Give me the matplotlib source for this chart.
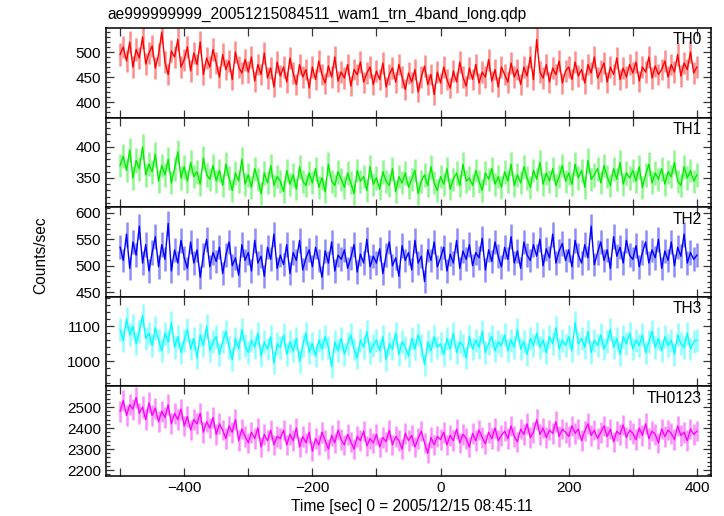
import numpy as np
import matplotlib
matplotlib.use("Agg")
import matplotlib.pyplot as plt
from matplotlib.ticker import MultipleLocator

plt.rcParams["font.family"] = ["Liberation Sans", "DejaVu Sans"]
plt.rcParams["font.size"] = 11

# time grid (sec), 5 s steps from -500 to 400
timeSec = np.arange(-500, 401, 5)

th0 = [495, 510, 482, 520, 470, 505, 488, 530, 476, 498,
       512, 468, 495, 540, 480, 455, 502, 490, 525, 470,
       485, 510, 462, 498, 475, 520, 455, 488, 470, 505,
       478, 450, 495, 465, 482, 445, 500, 470, 458, 485,
       460, 490, 442, 475, 455, 498, 448, 468, 430, 480,
       452, 470, 440, 488, 458, 435, 475, 450, 465, 428,
       470, 445, 482, 455, 438, 472, 450, 490, 442, 460,
       448, 475, 432, 465, 455, 480, 440, 458, 470, 435,
       462, 445, 478, 430, 455, 468, 440, 475, 450, 425,
       458, 440, 465, 420, 450, 472, 435, 455, 415, 460,
       438, 470, 445, 428, 462, 440, 480, 450, 432, 468,
       445, 475, 438, 460, 450, 485, 442, 465, 430, 470,
       455, 440, 478, 450, 465, 435, 470, 452, 490, 445,
       525, 460, 448, 475, 440, 468, 455, 482, 438, 462,
       470, 445, 480, 452, 465, 438, 475, 458, 490, 448,
       462, 478, 440, 470, 455, 488, 445, 468, 450, 475,
       458, 480, 442, 470, 460, 490, 448, 472, 455, 465,
       482, 450, 475, 460, 495, 452, 478, 465, 500, 458,
       470]

th1 = [370, 385, 362, 395, 350, 378, 365, 400, 355, 372,
       360, 388, 345, 370, 355, 380, 342, 365, 392, 350,
       368, 345, 375, 352, 360, 340, 382, 355, 348, 370,
       345, 362, 338, 372, 350, 330, 358, 345, 380, 340,
       355, 335, 365, 348, 325, 358, 342, 370, 338, 352,
       345, 328, 362, 340, 355, 332, 368, 345, 338, 358,
       342, 365, 335, 350, 328, 372, 345, 338, 360, 348,
       335, 358, 342, 325, 362, 345, 352, 330, 368, 340,
       350, 332, 360, 345, 338, 365, 328, 352, 342, 358,
       335, 348, 362, 325, 345, 355, 338, 368, 342, 330,
       352, 340, 365, 332, 348, 358, 338, 372, 345, 350,
       338, 362, 345, 330, 358, 348, 365, 340, 352, 335,
       360, 345, 372, 338, 355, 342, 368, 350, 335, 362,
       348, 375, 340, 358, 345, 365, 338, 352, 370, 345,
       358, 340, 372, 350, 362, 335, 378, 348, 355, 365,
       342, 370, 352, 338, 365, 348, 375, 340, 358, 350,
       362, 345, 368, 335, 355, 372, 342, 358, 348, 365,
       340, 360, 352, 375, 345, 338, 368, 350, 362, 345,
       355]

th2 = [535, 510, 560, 495, 545, 520, 575, 505, 540, 490,
       525, 555, 498, 540, 512, 580, 490, 530, 505, 548,
       515, 495, 545, 505, 530, 478, 520, 550, 498, 525,
       508, 535, 485, 520, 545, 500, 515, 482, 540, 510,
       525, 490, 548, 505, 518, 480, 535, 512, 560, 495,
       520, 502, 540, 485, 525, 510, 548, 492, 515, 530,
       498, 535, 510, 478, 528, 505, 545, 490, 520, 512,
       530, 495, 515, 540, 488, 522, 505, 550, 498, 518,
       505, 532, 485, 520, 545, 500, 515, 480, 538, 510,
       525, 492, 548, 505, 518, 470, 530, 510, 545, 498,
       515, 535, 490, 522, 505, 548, 495, 528, 512, 540,
       500, 525, 515, 552, 492, 530, 508, 545, 518, 498,
       535, 512, 555, 505, 528, 495, 545, 520, 510, 540,
       518, 550, 500, 532, 515, 560, 505, 528, 542, 510,
       530, 498, 548, 520, 505, 540, 515, 575, 502, 525,
       545, 510, 530, 495, 555, 518, 535, 505, 548, 520,
       512, 538, 498, 525, 545, 505, 530, 515, 550, 495,
       528, 510, 545, 500, 535, 518, 560, 505, 525, 512,
       520]

th3 = [1090, 1060, 1120, 1075, 1100, 1050, 1085, 1130, 1065, 1080,
       1045, 1095, 1060, 1030, 1080, 1055, 1110, 1040, 1070, 1025,
       1060, 1090, 1035, 1065, 1010, 1075, 1045, 1100, 1030, 1055,
       1070, 1020, 1055, 1085, 1040, 1005, 1065, 1035, 1090, 1045,
       1025, 1060, 1040, 1080, 1015, 1055, 1035, 1070, 995, 1050,
       1040, 1075, 1020, 1055, 1030, 1065, 1000, 1045, 1080, 1025,
       1050, 1015, 1060, 1035, 1070, 1040, 985, 1055, 1030, 1065,
       1020, 1050, 1075, 1035, 1010, 1060, 1040, 1085, 1025, 1045,
       1060, 1030, 1070, 1005, 1050, 1035, 1080, 1020, 1055, 1040,
       1015, 1065, 1035, 1075, 1045, 990, 1055, 1030, 1070, 1040,
       1050, 1020, 1065, 1035, 1080, 1025, 1055, 1045, 1010, 1070,
       1035, 1060, 1040, 1085, 1025, 1050, 1070, 1030, 1055, 1045,
       1075, 1030, 1060, 1040, 1090, 1035, 1055, 1020, 1065, 1045,
       1080, 1040, 1060, 1025, 1070, 1050, 1095, 1035, 1060, 1045,
       1070, 1030, 1110, 1050, 1065, 1040, 1085, 1025, 1060, 1045,
       1075, 1035, 1055, 1090, 1040, 1065, 1020, 1070, 1050, 1080,
       1035, 1060, 1045, 1075, 1025, 1055, 1085, 1040, 1065, 1030,
       1070, 1045, 1060, 1020, 1075, 1050, 1040, 1080, 1035, 1055,
       1060]

th0123 = [2480, 2530, 2460, 2510, 2490, 2545, 2470, 2500, 2440, 2520,
          2460, 2495, 2430, 2480, 2450, 2510, 2420, 2470, 2440, 2490,
          2410, 2455, 2390, 2440, 2420, 2470, 2380, 2430, 2400, 2450,
          2370, 2420, 2390, 2350, 2410, 2380, 2440, 2340, 2395, 2360,
          2330, 2380, 2350, 2400, 2310, 2370, 2340, 2390, 2320, 2360,
          2350, 2390, 2320, 2370, 2340, 2400, 2310, 2360, 2330, 2380,
          2290, 2350, 2320, 2380, 2340, 2300, 2365, 2330, 2390, 2345,
          2320, 2370, 2335, 2300, 2360, 2340, 2385, 2315, 2350, 2330,
          2370, 2310, 2355, 2335, 2390, 2320, 2360, 2340, 2300, 2375,
          2340, 2365, 2310, 2350, 2385, 2330, 2280, 2355, 2320, 2360,
          2345, 2380, 2320, 2365, 2340, 2395, 2330, 2370, 2350, 2310,
          2375, 2340, 2390, 2355, 2325, 2380, 2350, 2400, 2340, 2365,
          2385, 2350, 2410, 2360, 2335, 2395, 2370, 2420, 2355, 2380,
          2440, 2370, 2400, 2355, 2390, 2375, 2430, 2360, 2395, 2380,
          2360, 2410, 2375, 2395, 2340, 2385, 2420, 2365, 2390, 2350,
          2380, 2410, 2360, 2395, 2335, 2385, 2370, 2415, 2355, 2390,
          2375, 2345, 2400, 2365, 2420, 2350, 2385, 2370, 2330, 2395,
          2360, 2390, 2375, 2345, 2410, 2365, 2380, 2340, 2395, 2370,
          2385]

bandNames = ["TH0", "TH1", "TH2", "TH3", "TH0123"]
bandColors = ["#ff0000", "#00ee00", "#0000ff", "#00ffff", "#ff00ff"]
bandData = [th0, th1, th2, th3, th0123]
yLimits = [(369, 548), (303, 447), (441, 611), (929, 1183), (2172, 2598)]
yMajor = [50, 50, 50, 100, 100]
yMinor = [10, 10, 10, 20, 20]

fig = plt.figure(figsize=(7.24, 5.16), dpi=100)
left, right = 106 / 724, 711 / 724
top, bottom = 1 - 28 / 516, 1 - 476 / 516
panelH = (top - bottom) / 5

for i in range(5):
    ax = fig.add_axes([left, top - (i + 1) * panelH, right - left, panelH])
    vals = np.array(bandData[i], dtype=float)
    errs = np.sqrt(vals)
    # error bars as light vertical strokes, data as a thin jagged line
    ax.vlines(timeSec, vals - errs, vals + errs, color=bandColors[i],
              alpha=0.45, linewidth=1.8)
    ax.plot(timeSec, vals, color=bandColors[i], linewidth=1.0)
    ax.set_xlim(-522, 422)
    ax.set_ylim(*yLimits[i])
    ax.xaxis.set_major_locator(MultipleLocator(200))
    ax.xaxis.set_minor_locator(MultipleLocator(100))
    ax.yaxis.set_major_locator(MultipleLocator(yMajor[i]))
    ax.yaxis.set_minor_locator(MultipleLocator(yMinor[i]))
    ax.tick_params(which="both", direction="in", top=True, right=True,
                   width=0.9, color="#333333")
    ax.tick_params(which="major", length=6)
    ax.tick_params(axis="y", which="minor", length=3)
    ax.tick_params(axis="x", which="minor", length=6)
    for sp in ax.spines.values():
        sp.set_linewidth(1.1)
    if i < 4:
        ax.tick_params(labelbottom=False)
    ax.text(0.985, 0.95, bandNames[i], transform=ax.transAxes,
            ha="right", va="top", fontsize=11.2)

fig.text(107 / 724, 1 - 14 / 516, "ae999999999_20051215084511_wam1_trn_4band_long.qdp",
         ha="left", va="center", fontsize=11.2)
fig.text(41 / 724, 1 - 255 / 516, "Counts/sec", rotation=90,
         ha="center", va="center", fontsize=11.2)
fig.text(412 / 724, 1 - 507 / 516, "Time [sec] 0 = 2005/12/15 08:45:11",
         ha="center", va="center", fontsize=11.2)

fig.savefig("out.png", dpi=100)
